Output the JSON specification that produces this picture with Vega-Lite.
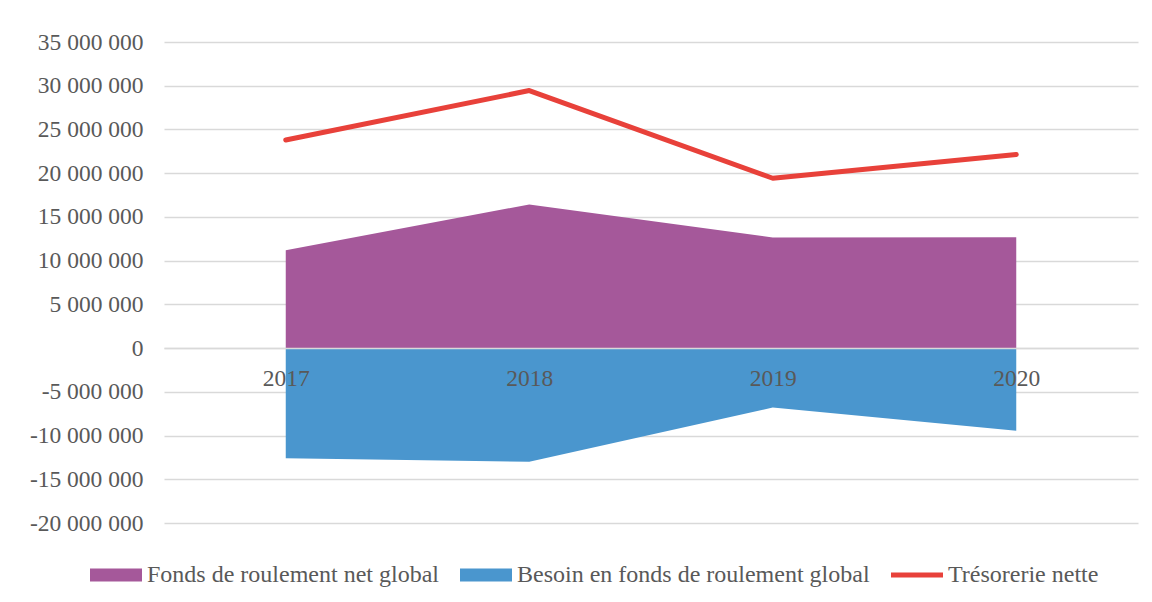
{
  "$schema": "https://vega.github.io/schema/vega-lite/v6.json",
  "width": 974,
  "height": 481,
  "autosize": {"type": "none"},
  "padding": {"left": 164, "top": 42, "right": 14, "bottom": 79},
  "background": "white",
  "config": {"view": {"stroke": null}, "font": "Liberation Serif"},
  "data": {
    "values": [
      {"annee": "2017", "serie": "Fonds de roulement net global", "valeur": 11200000},
      {"annee": "2018", "serie": "Fonds de roulement net global", "valeur": 16430000},
      {"annee": "2019", "serie": "Fonds de roulement net global", "valeur": 12650000},
      {"annee": "2020", "serie": "Fonds de roulement net global", "valeur": 12670000},
      {"annee": "2017", "serie": "Besoin en fonds de roulement global", "valeur": -12600000},
      {"annee": "2018", "serie": "Besoin en fonds de roulement global", "valeur": -13000000},
      {"annee": "2019", "serie": "Besoin en fonds de roulement global", "valeur": -6800000},
      {"annee": "2020", "serie": "Besoin en fonds de roulement global", "valeur": -9440000},
      {"annee": "2017", "serie": "Trésorerie nette", "valeur": 23800000},
      {"annee": "2018", "serie": "Trésorerie nette", "valeur": 29450000},
      {"annee": "2019", "serie": "Trésorerie nette", "valeur": 19420000},
      {"annee": "2020", "serie": "Trésorerie nette", "valeur": 22130000}
    ]
  },
  "layer": [
    {
      "transform": [{"filter": "datum.serie !== 'Trésorerie nette'"}],
      "mark": {"type": "area", "opacity": 1},
      "encoding": {
        "x": {
          "field": "annee",
          "type": "ordinal",
          "scale": {"type": "point", "padding": 0.5},
          "axis": {
            "title": null,
            "orient": "bottom",
            "offset": -175,
            "domain": true,
            "domainColor": "#d9d9d9",
            "domainWidth": 1.5,
            "ticks": false,
            "grid": false,
            "labelAngle": 0,
            "labelFont": "Liberation Serif",
            "labelFontSize": 23.5,
            "labelColor": "#595959",
            "labelPadding": 18,
            "zindex": 1
          }
        },
        "y": {
          "field": "valeur",
          "type": "quantitative",
          "stack": null,
          "scale": {"domain": [-20000000, 35000000], "nice": false, "zero": false},
          "axis": {
            "title": null,
            "values": [-20000000, -15000000, -10000000, -5000000, 0, 5000000, 10000000, 15000000, 20000000, 25000000, 30000000, 35000000],
            "domain": false,
            "ticks": false,
            "grid": true,
            "gridColor": "#d9d9d9",
            "gridWidth": 1.5,
            "labelFont": "Liberation Serif",
            "labelFontSize": 23.5,
            "labelColor": "#595959",
            "labelPadding": 21,
            "labelExpr": "(datum.value < 0 ? '-' : '') + replace(replace(format(abs(datum.value), ','), ',', ' '), ',', ' ')",
            "zindex": 0
          }
        },
        "color": {
          "field": "serie",
          "type": "nominal",
          "scale": {
            "domain": ["Fonds de roulement net global", "Besoin en fonds de roulement global", "Trésorerie nette"],
            "range": ["#A5589A", "#4A96CE", "#E8413A"]
          },
          "legend": {
            "title": null,
            "orient": "none",
            "legendX": -74,
            "legendY": 507,
            "direction": "horizontal",
            "symbolSize": 2704,
            "symbolType": "M-1,-0.25H1V0.25H-1Z",
            "symbolStrokeWidth": 0,
            "symbolOpacity": 1,
            "labelFont": "Liberation Serif",
            "labelFontSize": 24,
            "labelColor": "#595959",
            "labelOffset": 5,
            "labelLimit": 0,
            "columnPadding": 21
          }
        }
      }
    },
    {
      "transform": [{"filter": "datum.serie === 'Trésorerie nette'"}],
      "mark": {"type": "line", "strokeWidth": 5, "strokeCap": "round", "strokeJoin": "round"},
      "encoding": {
        "x": {"field": "annee", "type": "ordinal"},
        "y": {"field": "valeur", "type": "quantitative"},
        "color": {"field": "serie", "type": "nominal"}
      }
    },
    {
      "transform": [{"filter": "datum.valeur > 1000000000000"}],
      "mark": {"type": "point", "filled": true, "opacity": 1},
      "encoding": {
        "x": {"field": "annee", "type": "ordinal"},
        "y": {"field": "valeur", "type": "quantitative"},
        "color": {"field": "serie", "type": "nominal"},
        "shape": {
          "field": "serie",
          "type": "nominal",
          "scale": {
            "domain": ["Fonds de roulement net global", "Besoin en fonds de roulement global", "Trésorerie nette"],
            "range": ["M-1,-0.25H1V0.25H-1Z", "M-1,-0.25H1V0.25H-1Z", "M-1,-0.1H1V0.1H-1Z"]
          },
          "legend": {
            "title": null,
            "orient": "none",
            "legendX": -74,
            "legendY": 507,
            "direction": "horizontal",
            "symbolSize": 2704,
            "symbolStrokeWidth": 0,
            "symbolOpacity": 1,
            "labelFont": "Liberation Serif",
            "labelFontSize": 24,
            "labelColor": "#595959",
            "labelOffset": 5,
            "labelLimit": 0,
            "columnPadding": 21
          }
        }
      }
    }
  ]
}
